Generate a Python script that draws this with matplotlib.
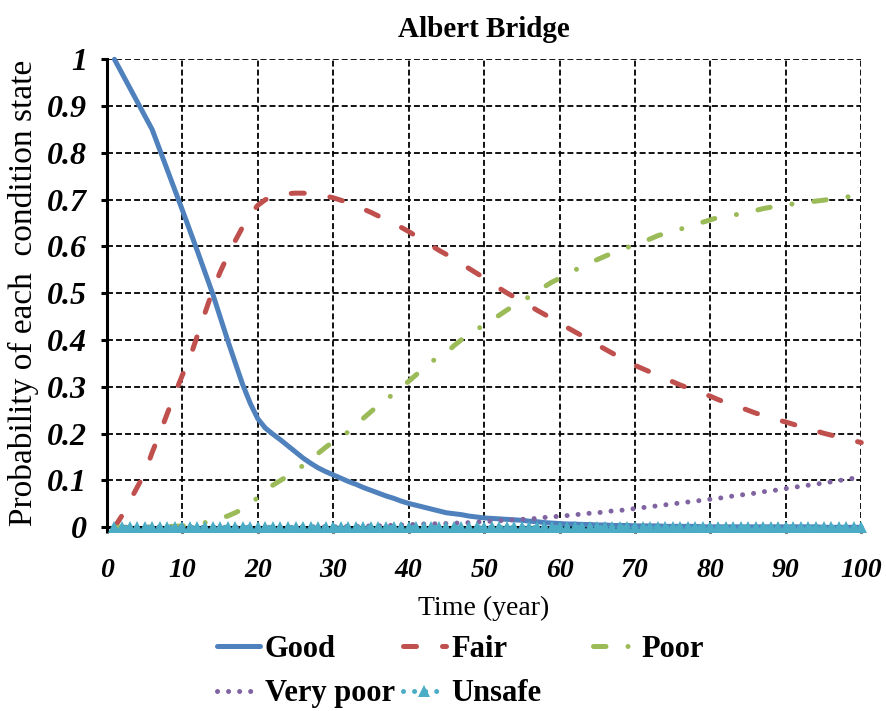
import matplotlib
matplotlib.use("Agg")
import matplotlib.pyplot as plt
from matplotlib.ticker import FixedLocator, FuncFormatter

plt.rcParams['font.family'] = ['Liberation Serif', 'DejaVu Serif']

years = list(range(1, 101))

good = [
    1.000, 0.970, 0.940, 0.910, 0.880, 0.850, 0.807, 0.764, 0.721, 0.678,
    0.634, 0.590, 0.545, 0.500, 0.450, 0.400, 0.352, 0.305, 0.265, 0.232,
    0.212, 0.199, 0.187, 0.174, 0.161, 0.148, 0.137, 0.127, 0.119, 0.112,
    0.105, 0.098, 0.092, 0.085, 0.079, 0.073, 0.067, 0.062, 0.056, 0.051,
    0.047, 0.043, 0.039, 0.035, 0.031, 0.029, 0.027, 0.024, 0.022, 0.020,
    0.019, 0.018, 0.017, 0.016, 0.015, 0.013, 0.012, 0.010, 0.009, 0.008,
    0.007, 0.007, 0.006, 0.006, 0.005, 0.005, 0.004, 0.004, 0.004, 0.003,
    0.003, 0.003, 0.003, 0.002, 0.002, 0.002, 0.002, 0.002, 0.001, 0.001,
    0.001, 0.001, 0.001, 0.001, 0.001, 0.001, 0.001, 0.001, 0.001, 0.001,
    0.001, 0.001, 0.001, 0.001, 0.000, 0.000, 0.000, 0.000, 0.000, 0.000,
]

fair = [
    0.000, 0.025, 0.055, 0.085, 0.115, 0.160, 0.200, 0.243, 0.285, 0.325,
    0.362, 0.410, 0.458, 0.505, 0.545, 0.580, 0.612, 0.642, 0.668, 0.688,
    0.700, 0.706, 0.710, 0.713, 0.714, 0.714, 0.713, 0.711, 0.708, 0.704,
    0.699, 0.694, 0.687, 0.680, 0.673, 0.665, 0.657, 0.649, 0.641, 0.632,
    0.622, 0.611, 0.602, 0.592, 0.583, 0.573, 0.563, 0.553, 0.543, 0.533,
    0.522, 0.511, 0.501, 0.492, 0.483, 0.474, 0.464, 0.455, 0.446, 0.437,
    0.427, 0.418, 0.409, 0.399, 0.390, 0.381, 0.372, 0.363, 0.354, 0.346,
    0.339, 0.332, 0.325, 0.318, 0.311, 0.304, 0.298, 0.292, 0.286, 0.280,
    0.273, 0.267, 0.262, 0.256, 0.250, 0.244, 0.239, 0.234, 0.229, 0.225,
    0.220, 0.215, 0.210, 0.206, 0.201, 0.197, 0.193, 0.189, 0.185, 0.181,
]

poor = [
    0.000, 0.000, 0.000, 0.000, 0.001, 0.001, 0.001, 0.002, 0.002, 0.003,
    0.004, 0.006, 0.010, 0.014, 0.019, 0.024, 0.031, 0.039, 0.049, 0.064,
    0.080, 0.090, 0.100, 0.110, 0.121, 0.132, 0.145, 0.158, 0.171, 0.183,
    0.193, 0.204, 0.219, 0.233, 0.247, 0.261, 0.273, 0.285, 0.298, 0.312,
    0.326, 0.340, 0.354, 0.363, 0.373, 0.388, 0.401, 0.411, 0.422, 0.433,
    0.443, 0.453, 0.464, 0.474, 0.483, 0.493, 0.503, 0.514, 0.524, 0.532,
    0.540, 0.549, 0.558, 0.565, 0.572, 0.579, 0.586, 0.592, 0.598, 0.604,
    0.610, 0.616, 0.623, 0.628, 0.632, 0.637, 0.642, 0.647, 0.652, 0.657,
    0.662, 0.665, 0.667, 0.670, 0.673, 0.677, 0.681, 0.684, 0.687, 0.689,
    0.691, 0.693, 0.695, 0.697, 0.699, 0.701, 0.704, 0.706, 0.707, 0.708,
]

very_poor = [
    0.000, 0.000, 0.000, 0.000, 0.000, 0.000, 0.000, 0.000, 0.000, 0.000,
    0.000, 0.000, 0.000, 0.000, 0.000, 0.000, 0.000, 0.000, 0.000, 0.000,
    0.000, 0.000, 0.000, 0.000, 0.000, 0.001, 0.001, 0.001, 0.001, 0.001,
    0.001, 0.002, 0.002, 0.002, 0.003, 0.003, 0.004, 0.004, 0.005, 0.006,
    0.006, 0.007, 0.007, 0.008, 0.008, 0.009, 0.009, 0.010, 0.011, 0.012,
    0.013, 0.014, 0.015, 0.016, 0.017, 0.018, 0.019, 0.021, 0.022, 0.024,
    0.025, 0.027, 0.028, 0.030, 0.031, 0.033, 0.035, 0.036, 0.038, 0.040,
    0.042, 0.044, 0.046, 0.048, 0.050, 0.052, 0.054, 0.056, 0.058, 0.060,
    0.062, 0.064, 0.067, 0.069, 0.071, 0.073, 0.076, 0.078, 0.080, 0.083,
    0.085, 0.088, 0.090, 0.092, 0.095, 0.097, 0.100, 0.102, 0.105, 0.108,
]

unsafe = [
    0.0, 0.0, 0.0, 0.0, 0.0, 0.0, 0.0, 0.0, 0.0, 0.0,
    0.0, 0.0, 0.0, 0.0, 0.0, 0.0, 0.0, 0.0, 0.0, 0.0,
    0.0, 0.0, 0.0, 0.0, 0.0, 0.0, 0.0, 0.0, 0.0, 0.0,
    0.0, 0.0, 0.0, 0.0, 0.0, 0.0, 0.0, 0.0, 0.0, 0.0,
    0.0, 0.0, 0.0, 0.0, 0.0, 0.0, 0.0, 0.0, 0.0, 0.0,
    0.0, 0.0, 0.0, 0.0, 0.0, 0.0, 0.0, 0.0, 0.0, 0.0,
    0.0, 0.0, 0.0, 0.0, 0.0, 0.0, 0.0, 0.0, 0.0, 0.0,
    0.0, 0.0, 0.0, 0.0, 0.0, 0.0, 0.0, 0.0, 0.0, 0.0,
    0.0, 0.0, 0.0, 0.0, 0.0, 0.0, 0.0, 0.0, 0.0, 0.0,
    0.0, 0.0, 0.0, 0.0, 0.0, 0.0, 0.0, 0.0, 0.0, 0.0,
]

x_ticks = [0, 10, 20, 30, 40, 50, 60, 70, 80, 90, 100]
y_ticks = [0, 0.1, 0.2, 0.3, 0.4, 0.5, 0.6, 0.7, 0.8, 0.9, 1.0]

W, H = 887, 711
fig = plt.figure(figsize=(W / 100, H / 100), dpi=100)
ax = fig.add_axes([106.9 / W, 1 - 527.3 / H, 754.4 / W, 468.0 / H])

LW = 3.6
l_good = ax.plot(years, good, color='#4F81BD', lw=LW, solid_capstyle='round',
                 solid_joinstyle='round', label='Good', zorder=4, clip_on=False)[0]
l_fair = ax.plot(years, fair, color='#C0504D', lw=LW, dashes=(2.6, 5.2),
                 dash_capstyle='round', label='Fair', zorder=4, clip_on=False)[0]
l_poor = ax.plot(years, poor, color='#9BBB59', lw=LW, dashes=(2.5, 4.4, 0.01, 4.4),
                 dash_capstyle='round', label='Poor', zorder=4, clip_on=False)[0]
l_vpoor = ax.plot(years, very_poor, color='#8064A2', lw=LW, dashes=(0.01, 2.2),
                  dash_capstyle='round', label='Very poor', zorder=4, clip_on=False)[0]
l_unsafe = ax.plot(years, unsafe, color='#4BACC6', lw=LW, dashes=(0.01, 2.2),
                   dash_capstyle='round', marker='^', markersize=8.5,
                   markeredgewidth=0, label='Unsafe', zorder=5, clip_on=False)[0]

ax.set_xlim(0, 100)
ax.set_ylim(0, 1)
ax.xaxis.set_major_locator(FixedLocator(x_ticks))
ax.yaxis.set_major_locator(FixedLocator(y_ticks))
ax.xaxis.set_major_formatter(FuncFormatter(lambda v, p: f"{v:g}"))
ax.yaxis.set_major_formatter(FuncFormatter(lambda v, p: f"{v:g}"))

ax.grid(True, color='black', lw=1.3, dashes=(3.3, 1.7))
ax.set_axisbelow(True)
for side in ('top', 'right'):
    ax.spines[side].set_visible(False)
for side in ('left', 'bottom'):
    ax.spines[side].set_linewidth(2.2)
    ax.spines[side].set_color('black')

ax.tick_params(axis='both', direction='out', length=4.3, width=2.2, color='black')
ax.tick_params(axis='x', pad=18)
ax.tick_params(axis='y', pad=10)
for lab in ax.get_xticklabels():
    lab.set_fontsize(20)
    lab.set_fontweight('bold')
    lab.set_fontstyle('italic')
for lab in ax.get_yticklabels():
    lab.set_fontsize(23)
    lab.set_fontweight('bold')
    lab.set_fontstyle('italic')

ax.set_title('Albert Bridge', fontsize=21, fontweight='bold', pad=16)
ax.set_xlabel('Time (year)', fontsize=20, labelpad=9)
ax.set_ylabel('Probability of each  condition state', fontsize=24, labelpad=6)

leg_kw = dict(frameon=False, prop={'family': 'Liberation Serif', 'weight': 'bold', 'size': 22},
              handlelength=1.4, handletextpad=0.17, labelspacing=0.5,
              borderpad=0, borderaxespad=0, loc='upper left')
fig.legend([l_good, l_vpoor], ['Good', 'Very poor'],
           bbox_to_anchor=(217 / W, 1 - 635 / H), **leg_kw)
fig.legend([l_fair, l_unsafe], ['Fair', 'Unsafe'],
           bbox_to_anchor=(403 / W, 1 - 635 / H), **leg_kw)
fig.legend([l_poor], ['Poor'],
           bbox_to_anchor=(593 / W, 1 - 635 / H), **leg_kw)

fig.savefig('out.png', dpi=100)
